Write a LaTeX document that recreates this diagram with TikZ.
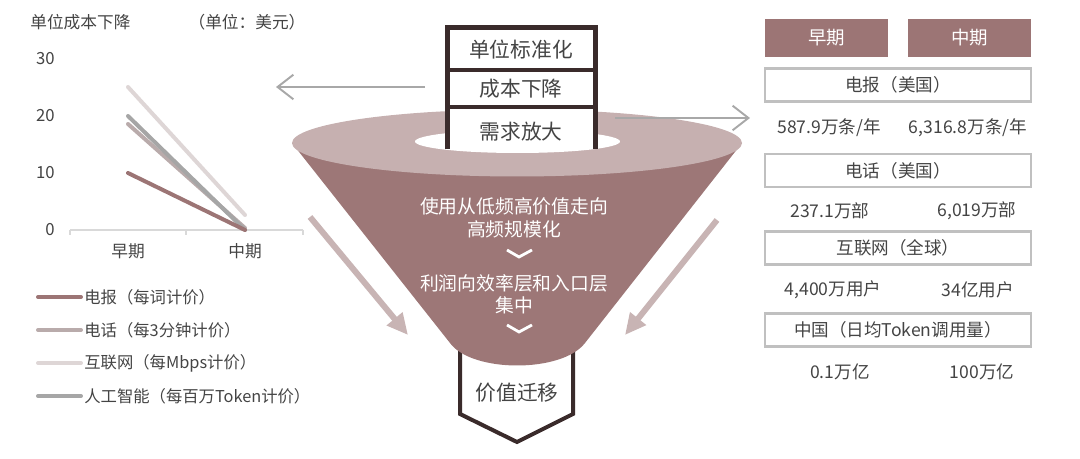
\documentclass[tikz,border=0pt]{standalone}
\usepackage{fontspec}
\setmainfont{Noto Sans CJK SC}
\usetikzlibrary{arrows.meta}
\definecolor{txt}{HTML}{444444}
\definecolor{mauve}{HTML}{9C7575}
\definecolor{conedark}{HTML}{9D7777}
\definecolor{conelight}{HTML}{C6B0B0}
\definecolor{pinkarrow}{HTML}{C8B4B4}
\definecolor{towerc}{HTML}{3A2B2B}
\definecolor{phonec}{HTML}{B9ABAB}
\definecolor{netc}{HTML}{DED6D6}
\definecolor{aic}{HTML}{A6A6A6}
\definecolor{axisc}{HTML}{D9D9D9}
\definecolor{borderc}{HTML}{C0C0C0}
\definecolor{garrow}{HTML}{A8A8A8}
\newcommand{\fs}[1]{\fontsize{#1}{#1}\selectfont}
\begin{document}
\begin{tikzpicture}[x=0.02cm,y=-0.02cm,
  lbl/.style={text=txt,inner sep=0pt,font=\fs{9.5pt}},
  legtxt/.style={text=txt,inner sep=0pt,anchor=west,font=\fs{9.3pt}},
  series/.style={line width=0.08cm,line cap=round},
  towertxt/.style={text=txt,inner sep=0pt,font=\fs{11.8pt}},
  conetxt/.style={text=white,inner sep=0pt,align=center,font=\fs{10.7pt}},
  chev/.style={draw=white,line width=1.6pt},
  hdr/.style={fill=mauve,text=white,inner sep=0pt,minimum width=2.46cm,minimum height=0.76cm,font=\fs{10.5pt}},
  tbox/.style={draw=borderc,line width=1.3pt,text=txt,inner sep=0pt,minimum width=5.32cm,minimum height=0.66cm,font=\fs{10pt}},
  tval/.style={text=txt,inner sep=0pt,font=\fs{10pt}},
  thinarrow/.style={draw=garrow,line width=1.1pt,-{Straight Barb[length=9pt,width=14pt,line width=1.1pt]}},
  fatarrow/.style={draw=pinkarrow,line width=0.12cm,-{Triangle[length=12pt,width=11pt]}}
]
\useasboundingbox (0,0) rectangle (1080,459);

% ---------- left chart ----------
\node[lbl,anchor=west] (ctitle) at (30,22) {单位成本下降};
\node[lbl] (cunit) at (247,22) {（单位：美元）};
\node[lbl,anchor=east] (y30) at (55,59) {30};
\node[lbl,anchor=east] (y20) at (55,116) {20};
\node[lbl,anchor=east] (y10) at (55,173) {10};
\node[lbl,anchor=east] (y0) at (55,230) {0};
\coordinate (ax0) at (70,230);
\coordinate (ax1) at (186,230);
\coordinate (ax2) at (303,230);
\draw[axisc,line width=1.2pt] (ax0) -- (ax2);
\foreach \t in {ax0,ax1,ax2} \draw[axisc,line width=1.2pt] (\t) -- ++(0,5);
\node[lbl] (cat1) at (128,251) {早期};
\node[lbl] (cat2) at (245,251) {中期};

\coordinate (n0) at (128,87);  \coordinate (n1) at (245,215);
\coordinate (p0) at (128,124); \coordinate (p1) at (245,228);
\coordinate (a0) at (128,116); \coordinate (a1) at (245,230);
\coordinate (t0) at (128,173); \coordinate (t1) at (245,230);
\draw[series,netc] (n0) -- (n1);
\draw[series,phonec] (p0) -- (p1);
\draw[series,aic] (a0) -- (a1);
\draw[series,mauve] (t0) -- (t1);

% legend
\coordinate (l1a) at (38,297); \coordinate (l1b) at (81,297);
\coordinate (l2a) at (38,330); \coordinate (l2b) at (81,330);
\coordinate (l3a) at (38,363); \coordinate (l3b) at (81,363);
\coordinate (l4a) at (38,396); \coordinate (l4b) at (81,396);
\draw[series,mauve] (l1a) -- (l1b);
\draw[series,phonec] (l2a) -- (l2b);
\draw[series,netc] (l3a) -- (l3b);
\draw[series,aic] (l4a) -- (l4b);
\node[legtxt] (lg1) at (84,297) {电报（每词计价）};
\node[legtxt] (lg2) at (84,330) {电话（每3分钟计价）};
\node[legtxt] (lg3) at (84,363) {互联网（每Mbps计价）};
\node[legtxt] (lg4) at (84,396) {人工智能（每百万Token计价）};

% ---------- funnel ----------
% bottom pentagon
\coordinate (pg1) at (460,330);
\coordinate (pg2) at (460,414);
\coordinate (pg3) at (517,442);
\coordinate (pg4) at (573,414);
\coordinate (pg5) at (573,330);
\draw[towerc,line width=0.08cm,fill=white] (pg1) -- (pg2) -- (pg3) -- (pg4) -- (pg5);
\node[towertxt] (migr) at (517,393) {价值迁移};

% cone
\fill[conedark] (292,143) -- (450,343) .. controls (472,373) and (562,373) .. (585,343) -- (742,143) -- cycle;
\fill[conelight] (517,143) ellipse [x radius=4.5cm, y radius=0.67cm];
\fill[white] (517.5,141.5) ellipse [x radius=2.05cm, y radius=0.23cm];

% tower
\fill[white] (447,27) rectangle (595,149);
\draw[towerc,line width=0.1cm] (447,149) -- (447,27.5) -- (595,27.5) -- (595,149);
\draw[towerc,line width=0.09cm] (447,70) -- (595,70);
\draw[towerc,line width=0.09cm] (447,107) -- (595,107);
\node[towertxt] (tb1) at (521,50) {单位标准化};
\node[towertxt] (tb2) at (521,89) {成本下降};
\node[towertxt] (tb3) at (521,132) {需求放大};

% cone texts
\node[conetxt] (ct1) at (514,218) {使用从低频高价值走向\\[2pt]高频规模化};
\draw[chev] (507,250) -- (519,257) -- (532,250);
\node[conetxt] (ct2) at (514,294) {利润向效率层和入口层\\[2pt]集中};
\draw[chev] (507,325) -- (519,332) -- (532,325);

% arrows
\coordinate (ga1) at (425,87);  \coordinate (ga2) at (276,87);
\draw[thinarrow] (ga1) -- (ga2);
\coordinate (gb1) at (615,118); \coordinate (gb2) at (750,118);
\draw[thinarrow] (gb1) -- (gb2);
\coordinate (fa1) at (310,217); \coordinate (fa2) at (408,335);
\draw[fatarrow] (fa1) -- (fa2);
\coordinate (fb1) at (717,220); \coordinate (fb2) at (625,335);
\draw[fatarrow] (fb1) -- (fb2);

% ---------- right table ----------
\node[hdr] (h1) at (826.5,38) {早期};
\node[hdr] (h2) at (969.5,38) {中期};
\node[tbox] (r1) at (898,85) {电报（美国）};
\node[tval] (v11) at (829,128) {587.9万条/年};
\node[tval] (v12) at (968,128) {6,316.8万条/年};
\node[tbox] (r2) at (898,170.5) {电话（美国）};
\node[tval] (v21) at (830,211) {237.1万部};
\node[tval] (v22) at (977,211) {6,019万部};
\node[tbox] (r3) at (898,248) {互联网（全球）};
\node[tval] (v31) at (833,290) {4,400万用户};
\node[tval] (v32) at (978,290) {34亿用户};
\node[tbox] (r4) at (898,330) {中国（日均Token调用量）};
\node[tval] (v41) at (840,372) {0.1万亿};
\node[tval] (v42) at (982,372) {100万亿};
\end{tikzpicture}
\end{document}
